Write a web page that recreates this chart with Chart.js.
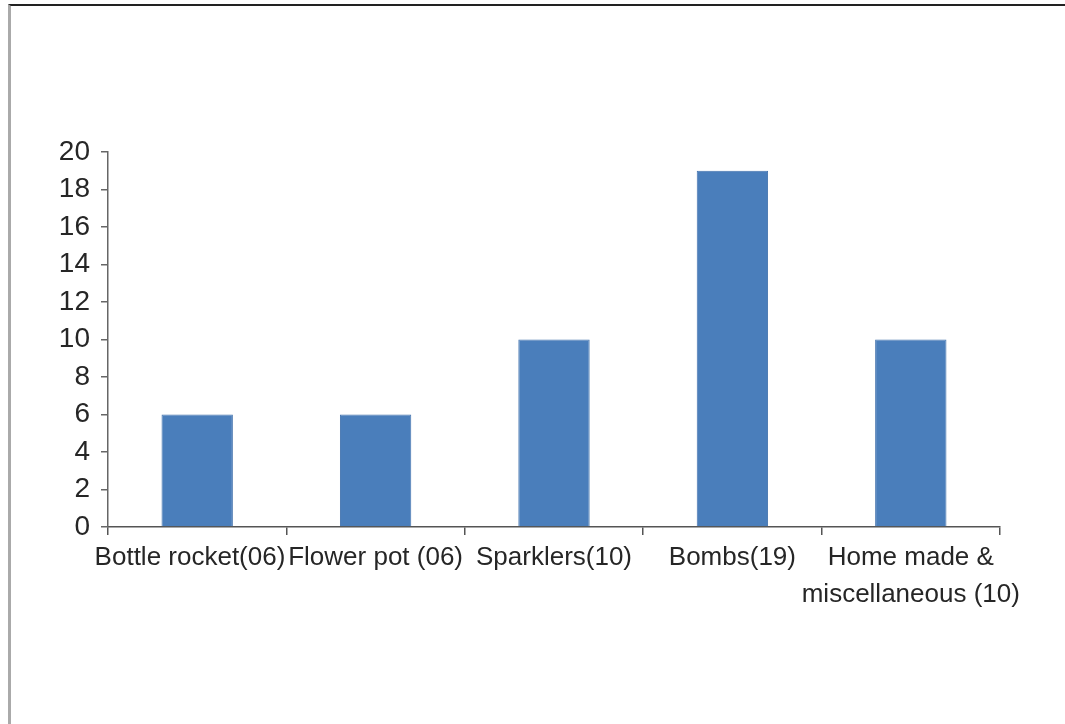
<!DOCTYPE html>
<html>
<head>
<meta charset="utf-8">
<script src="https://cdn.jsdelivr.net/npm/chart.js@4.4.0/dist/chart.umd.min.js"></script>
<style>
    html, body { margin: 0; padding: 0; background: #fff; }
    #wrap { position: absolute; left: 0; top: 0; width: 1065px; height: 724px; }
    #frame { position: absolute; left: 8px; top: 4px; right: 0; bottom: 0;
             border-top: 2px solid #222; border-left: 3px solid #aaa; }
    canvas { position: absolute; left: 0; top: 0; }
</style>
</head>
<body>
<div id="wrap">
    <div id="frame"></div>
    <canvas id="chart" width="1065" height="724"></canvas>
</div>
<script>
// categories + counts
// (first label sits a bit left of its slot in the original, hence the trailing spaces)
const categories = [
    'Bottle rocket(06)\u00a0\u00a0',
    'Flower pot (06)',
    'Sparklers(10)',
    'Bombs(19)',
    ['Home made &', 'miscellaneous (10)']
];
const counts = [6, 6, 10, 19, 10];
const yTicks = [0, 2, 4, 6, 8, 10, 12, 14, 16, 18, 20];

document.addEventListener('DOMContentLoaded', () => {

    const ctx = document.getElementById('chart');

    new Chart(ctx, {
        type: 'bar',
        data: {
            labels: categories,
            datasets: [{
                data: counts,
                backgroundColor: '#4a7ebb',
                borderColor: '#4373ad',
                borderWidth: 1,
                barPercentage: 0.4,
                categoryPercentage: 1.0
            }]
        },
        options: {
            responsive: false,
            animation: false,
            layout: {
                padding: { left: 0, top: 152, right: 65, bottom: 87 }
            },
            plugins: {
                legend: { display: false },
                tooltip: { enabled: false }
            },
            scales: {
                x: {
                    afterFit: (scale) => { scale.height = 110; },
                    border: { color: '#555', width: 1.5 },
                    grid: {
                        offset: true,
                        drawOnChartArea: false,
                        drawTicks: true,
                        tickLength: 8,
                        color: '#555',
                        lineWidth: 1.5
                    },
                    ticks: {
                        autoSkip: false,
                        maxRotation: 0,
                        minRotation: 0,
                        padding: 4,
                        color: '#262626',
                        font: { family: '"Liberation Sans", Arial, sans-serif', size: 26, lineHeight: 1.42 }
                    }
                },
                y: {
                    min: 0,
                    max: 20,
                    afterFit: (scale) => { scale.width = 108; },
                    afterBuildTicks: (scale) => {
                        scale.ticks = yTicks.map(v => ({ value: v }));
                    },
                    border: { color: '#666', width: 1.5 },
                    grid: {
                        drawOnChartArea: false,
                        drawTicks: true,
                        tickLength: 7,
                        color: '#666',
                        lineWidth: 1.5
                    },
                    ticks: {
                        autoSkip: false,
                        padding: 11,
                        color: '#262626',
                        font: { family: '"Liberation Sans", Arial, sans-serif', size: 28 }
                    }
                }
            }
        }
    });
});
</script>
</body>
</html>
